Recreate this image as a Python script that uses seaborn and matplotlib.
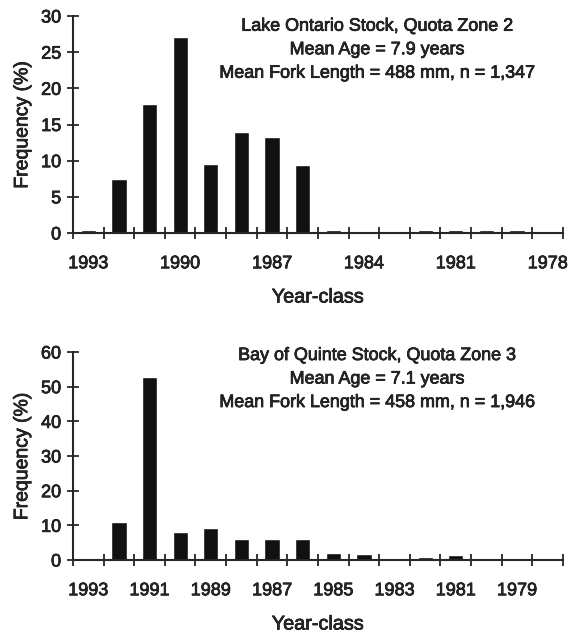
import matplotlib
matplotlib.use("Agg")
import matplotlib.pyplot as plt
import matplotlib.patheffects as pe
import seaborn as sns
import pandas as pd
import numpy as np

# year-classes, oldest on the right
years = [str(y) for y in range(1993, 1977, -1)]
zone2_freq = [0.4, 7.45, 17.9, 27.1, 9.6, 13.95, 13.3, 9.45,
              0.4, 0.0, 0.0, 0.4, 0.35, 0.4, 0.45, 0.0]
zone3_freq = [0.0, 10.9, 52.7, 8.0, 9.1, 6.1, 6.1, 6.2,
              1.9, 1.6, 0.0, 0.8, 1.4, 0.15, 0.15, 0.0]

zone2_text = ("Lake Ontario Stock, Quota Zone 2\nMean Age = 7.9 years\n"
              "Mean Fork Length = 488 mm, n = 1,347")
zone3_text = ("Bay of Quinte Stock, Quota Zone 3\nMean Age = 7.1 years\n"
              "Mean Fork Length = 458 mm, n = 1,946")

sns.set_style("ticks")
plt.rcParams['font.family'] = ['Liberation Sans', 'DejaVu Sans']

# thicken glyphs a little, the original is a heavy scan
heavy = [pe.withStroke(linewidth=0.5, foreground='black')]

fig = plt.figure(figsize=(5.72, 6.32), dpi=100)
ax_top = fig.add_axes([0.1276, 0.6313, 0.8566, 0.3434])
ax_bot = fig.add_axes([0.1276, 0.1139, 0.8566, 0.3291])


def draw_panel(ax, freq, ymax, ystep, label_every, text, text_y):
    df = pd.DataFrame({'year': years, 'freq': freq})
    sns.barplot(data=df, x='year', y='freq', order=years, color='#111111',
                width=0.5, saturation=1, ax=ax)
    n = len(years)
    ax.set_xlim(-0.5, n - 0.5)
    ax.set_ylim(0, ymax)
    ax.set_yticks(np.arange(0, ymax + 1, ystep))
    ax.set_yticklabels([str(v) for v in np.arange(0, ymax + 1, ystep)])
    # labels under category centres, tick marks on category boundaries
    pos = list(range(0, n, label_every))
    ax.set_xticks(pos)
    ax.set_xticklabels([years[i] for i in pos])
    ax.set_xticks(np.arange(-0.5, n, 1.0), minor=True)
    ax.tick_params(axis='x', which='major', length=0, pad=16, labelsize=13)
    ax.tick_params(axis='x', which='minor', direction='inout', length=9, width=1.3)
    ax.tick_params(axis='y', direction='inout', length=9, width=1.3, labelsize=13, pad=4)
    for s in ['top', 'right']:
        ax.spines[s].set_visible(False)
    for s in ['left', 'bottom']:
        ax.spines[s].set_linewidth(1.5)
    ax.set_xlabel('Year-class', fontsize=14.3, labelpad=11)
    ax.set_ylabel('Frequency (%)', fontsize=14, labelpad=7)
    ax.text(0.62, text_y, text, transform=ax.transAxes, ha='center', va='top',
            fontsize=12.9, linespacing=1.5)
    for t in ax.get_xticklabels() + ax.get_yticklabels() + ax.texts + \
            [ax.xaxis.label, ax.yaxis.label]:
        t.set_path_effects(heavy)


draw_panel(ax_top, zone2_freq, 30, 5, 3, zone2_text, 0.992)
draw_panel(ax_bot, zone3_freq, 60, 10, 2, zone3_text, 1.024)

fig.savefig('out.png', dpi=100)
